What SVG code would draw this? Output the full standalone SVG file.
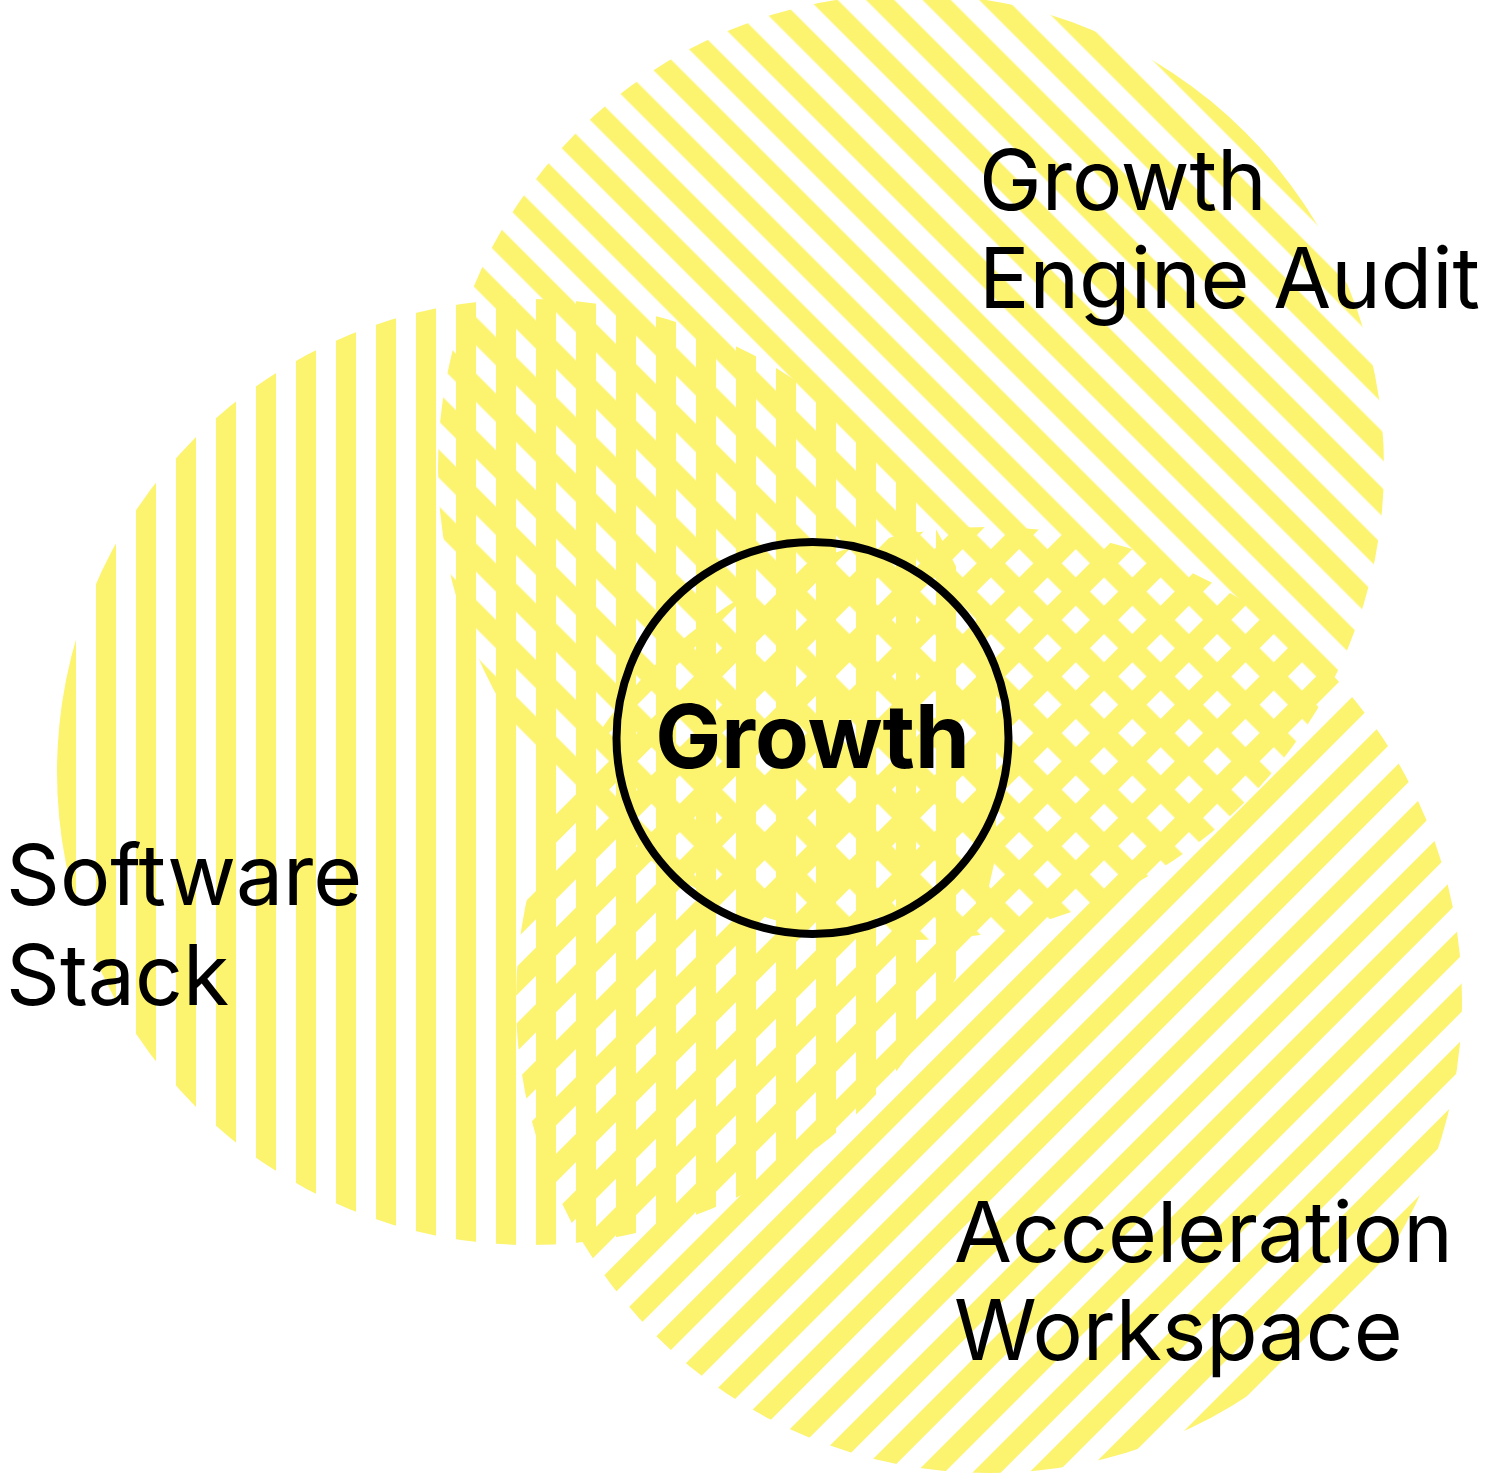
<svg xmlns="http://www.w3.org/2000/svg" width="1500" height="1474" viewBox="0 0 1500 1474">
  <style>
    .stripe { fill: #FCF36E; }
    .label { font-family: Inter, "Liberation Sans", sans-serif; font-size: 84px; fill: #000000; }
    .core { font-family: Inter, "Liberation Sans", sans-serif; font-size: 88px; font-weight: 700; fill: #000000; }
  </style>
  <defs>
    <pattern id="vert" patternUnits="userSpaceOnUse" width="40" height="40">
      <rect class="stripe" x="16" y="0" width="20" height="40"/>
    </pattern>
    <pattern id="back" patternUnits="userSpaceOnUse" width="40" height="40" patternTransform="rotate(-45)">
      <rect class="stripe" x="12.4" y="0" width="20" height="40"/>
    </pattern>
    <pattern id="fwd" patternUnits="userSpaceOnUse" width="40" height="40" patternTransform="rotate(45)">
      <rect class="stripe" x="9" y="0" width="20" height="40"/>
    </pattern>
  </defs>
  <rect x="0" y="0" width="1500" height="1474" fill="#FFFFFF"/>
  <g id="node-growth-engine-audit">
    <circle cx="911" cy="467" r="473" fill="url(#back)"/>
  </g>
  <g id="node-software-stack">
    <circle cx="530" cy="772" r="473" fill="url(#vert)"/>
  </g>
  <g id="node-acceleration-workspace">
    <circle cx="989" cy="1000" r="473" fill="url(#fwd)"/>
  </g>
  <g id="connectors"></g>
  <g id="node-growth">
    <circle cx="812.5" cy="738" r="196" fill="none" stroke="#000000" stroke-width="8"/>
    <text class="core" x="812.5" y="768" text-anchor="middle">Growth</text>
  </g>
  <g id="labels">
    <text class="label" x="979" y="210">Growth</text>
    <text class="label" x="979" y="308">Engine Audit</text>
    <text class="label" x="6" y="905">Software</text>
    <text class="label" x="6" y="1005">Stack</text>
    <text class="label" x="954" y="1262">Acceleration</text>
    <text class="label" x="954" y="1360">Workspace</text>
  </g>
</svg>
